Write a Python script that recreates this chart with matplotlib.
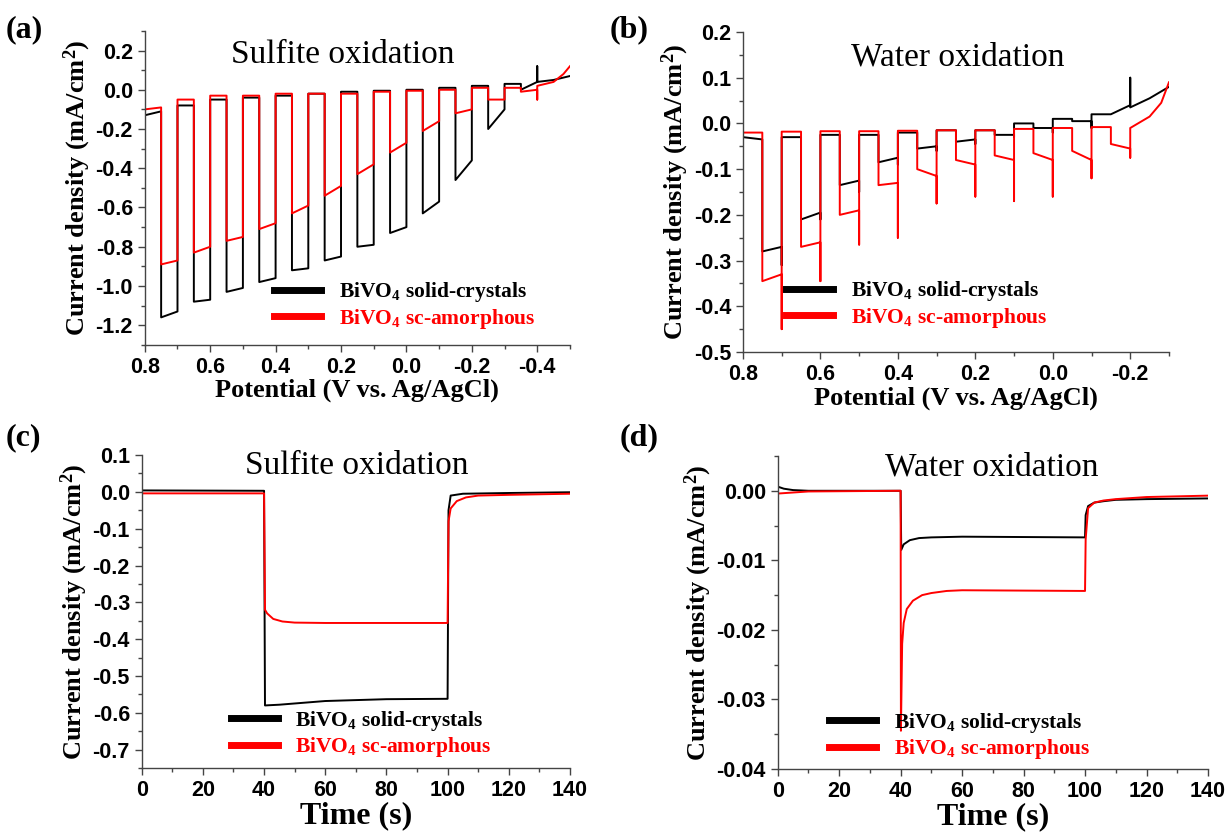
import numpy as np
from matplotlib import pyplot as plt
from matplotlib.ticker import MultipleLocator

plt.rcParams['font.family'] = ['Liberation Sans', 'DejaVu Sans']
plt.rcParams['font.weight'] = 'bold'
plt.rcParams['mathtext.fontset'] = 'custom'
plt.rcParams['mathtext.rm'] = 'Liberation Serif:bold'
plt.rcParams['mathtext.it'] = 'Liberation Serif:bold'
plt.rcParams['mathtext.bf'] = 'Liberation Serif:bold'

BLACK = '#000000'
RED = '#ff0000'
AXCOL = '#444444'

# ---- (a) chopped LSV, sulfite oxidation ----
a_edges = [0.75, 0.65, 0.55, 0.45, 0.35, 0.25, 0.15, 0.05, -0.05, -0.15, -0.25, -0.35]
a_black_start = -0.13
a_black_on = [-1.16, -1.08, -1.03, -0.98, -0.92, -0.87, -0.80, -0.73, -0.63, -0.46, -0.20, 0.00]
a_black_off = [-1.13, -1.07, -1.01, -0.96, -0.91, -0.85, -0.79, -0.70, -0.57, -0.36, -0.10, 0.04]
a_black_spike = [-1.13, -1.07, -1.01, -0.96, -0.91, -0.85, -0.79, -0.70, -0.57, -0.36, -0.10, 0.12]
a_black_dark = [-0.11, -0.08, -0.05, -0.04, -0.03, -0.02, -0.01, -0.005, 0.0, 0.01, 0.02, 0.03, 0.04]
a_black_tail_x = [-0.45, -0.50]
a_black_tail_y = [0.05, 0.07]
a_red_start = -0.10
a_red_on = [-0.89, -0.83, -0.77, -0.71, -0.63, -0.54, -0.43, -0.32, -0.21, -0.12, -0.05, -0.01]
a_red_off = [-0.87, -0.80, -0.75, -0.68, -0.59, -0.49, -0.38, -0.27, -0.16, -0.10, -0.05, 0.00]
a_red_spike = [-0.87, -0.80, -0.75, -0.68, -0.59, -0.49, -0.38, -0.27, -0.16, -0.10, -0.05, -0.05]
a_red_dark = [-0.09, -0.05, -0.03, -0.03, -0.02, -0.02, -0.02, -0.01, -0.005, 0.0, 0.01, 0.01, 0.02]
a_red_tail_x = [-0.45, -0.48, -0.50]
a_red_tail_y = [0.04, 0.08, 0.12]

# ---- (b) chopped LSV, water oxidation ----
b_edges = [0.75, 0.65, 0.55, 0.45, 0.35, 0.25, 0.15, 0.05, -0.05, -0.15]
b_black_start = -0.03
b_black_on = [-0.28, -0.21, -0.135, -0.085, -0.055, -0.04, -0.025, -0.01, 0.005, 0.02]
b_black_off = [-0.27, -0.195, -0.125, -0.075, -0.05, -0.035, -0.025, -0.01, 0.005, 0.04]
b_black_spike = [-0.31, -0.21, -0.15, -0.09, -0.06, -0.045, -0.03, -0.02, -0.01, 0.10]
b_black_dark = [-0.035, -0.03, -0.025, -0.025, -0.02, -0.015, -0.015, 0.0, 0.01, 0.02, 0.035]
b_black_tail_x = [-0.25, -0.30]
b_black_tail_y = [0.055, 0.08]
b_red_start = -0.02
b_red_on = [-0.345, -0.27, -0.20, -0.135, -0.10, -0.08, -0.07, -0.065, -0.06, -0.045]
b_red_off = [-0.33, -0.26, -0.19, -0.13, -0.115, -0.09, -0.08, -0.08, -0.08, -0.055]
b_red_spike = [-0.45, -0.345, -0.265, -0.25, -0.175, -0.16, -0.17, -0.16, -0.12, -0.075]
b_red_dark = [-0.02, -0.018, -0.017, -0.017, -0.016, -0.015, -0.015, -0.012, -0.01, -0.008, -0.01]
b_red_tail_x = [-0.22, -0.25, -0.28, -0.30]
b_red_tail_y = [0.0, 0.015, 0.045, 0.09]

# ---- (c) chronoamperometry, sulfite ----
c_t_black = [0, 40, 40.3, 45, 60, 80, 100, 100.3, 101, 105, 120, 140]
c_j_black = [0.004, 0.003, -0.58, -0.578, -0.568, -0.563, -0.562, -0.05, -0.01, -0.005, -0.003, -0.001]
c_t_red = [0, 40, 40.3, 41, 43, 46, 50, 60, 100, 100.3, 101, 103, 106, 110, 120, 140]
c_j_red = [-0.004, -0.004, -0.32, -0.33, -0.345, -0.352, -0.355, -0.356, -0.356, -0.08,
           -0.045, -0.025, -0.015, -0.01, -0.008, -0.005]

# ---- (d) chronoamperometry, water ----
d_t_black = [0, 2, 5, 10, 40, 40.2, 41, 43, 46, 50, 60, 100, 100.2, 101, 103, 106, 110, 120, 140]
d_j_black = [0.0006, 0.0003, 0.0001, 0.0, 0.0, -0.0085, -0.0077, -0.0071, -0.0068, -0.0067,
             -0.0066, -0.0067, -0.0035, -0.0022, -0.0017, -0.0015, -0.0013, -0.0012, -0.0011]
d_t_red = [0, 10, 40, 40.1, 40.5, 41, 42, 44, 47, 50, 55, 60, 100, 100.2, 101, 103, 106, 110, 120, 140]
d_j_red = [-0.0004, -0.0001, 0.0, -0.0345, -0.022, -0.019, -0.0170, -0.0158, -0.0150, -0.0147,
           -0.0144, -0.0143, -0.0144, -0.007, -0.0025, -0.0017, -0.0014, -0.0012, -0.0009, -0.0007]

LABEL_BLACK = r'BiVO$_4$ solid-crystals'
LABEL_RED = r'BiVO$_4$ sc-amorphous'


def chopped(edges, start, dark, on, off, spike, tail_x, tail_y, width=0.05):
    x = [0.80]
    y = [start]
    for i, e in enumerate(edges):
        x += [e, e, e - width, e - width, e - width]
        y += [dark[i], on[i], off[i], spike[i], dark[i + 1]]
    x += tail_x
    y += tail_y
    return x, y


def style_axes(ax):
    for side in ['top', 'right']:
        ax.spines[side].set_visible(False)
    for side in ['left', 'bottom']:
        ax.spines[side].set_color(AXCOL)
        ax.spines[side].set_linewidth(1.0)
    ax.tick_params(which='both', direction='out', colors=AXCOL, labelcolor='black')
    ax.tick_params(which='major', length=5, width=1.0, labelsize=15.5)
    ax.tick_params(which='minor', length=3, width=1.0)
    for lab in ax.get_xticklabels() + ax.get_yticklabels():
        lab.set_fontweight('bold')


def add_legend(ax, anchor):
    leg = ax.legend(loc='lower right', bbox_to_anchor=anchor, frameon=False,
                    borderaxespad=0, borderpad=0,
                    handlelength=2.2, handletextpad=0.8, labelspacing=0.12,
                    prop={'family': 'Liberation Serif', 'weight': 'bold', 'size': 15.5})
    for line in leg.get_lines():
        line.set_linewidth(5)
    for text, col in zip(leg.get_texts(), [BLACK, RED]):
        text.set_color(col)


serif_bold = {'family': 'Liberation Serif', 'weight': 'bold'}
ylab = 'Current density (mA/cm$^2$)'

fig = plt.figure(figsize=(12.27, 8.35), dpi=100)
ax_a = fig.add_axes([0.118, 0.587, 0.3465, 0.376])
ax_b = fig.add_axes([0.6055, 0.5784, 0.3472, 0.3833])
ax_c = fig.add_axes([0.1155, 0.0802, 0.349, 0.3748])
ax_d = fig.add_axes([0.6338, 0.079, 0.3507, 0.3749])

# (a)
x, y = chopped(a_edges, a_black_start, a_black_dark, a_black_on, a_black_off, a_black_spike,
               a_black_tail_x, a_black_tail_y)
ax_a.plot(x, y, color=BLACK, lw=1.4, label=LABEL_BLACK)
x, y = chopped(a_edges, a_red_start, a_red_dark, a_red_on, a_red_off, a_red_spike,
               a_red_tail_x, a_red_tail_y)
ax_a.plot(x, y, color=RED, lw=1.4, label=LABEL_RED)
ax_a.set_xlim(0.8, -0.5)
ax_a.set_ylim(-1.3, 0.3)
ax_a.set_xticks([0.8, 0.6, 0.4, 0.2, 0.0, -0.2, -0.4])
ax_a.set_xticklabels(['0.8', '0.6', '0.4', '0.2', '0.0', '-0.2', '-0.4'])
ax_a.xaxis.set_minor_locator(MultipleLocator(0.1))
ax_a.yaxis.set_minor_locator(MultipleLocator(0.1))
ax_a.set_yticks(np.round(np.arange(-1.2, 0.21, 0.2), 1))
ax_a.set_yticklabels(['-1.2', '-1.0', '-0.8', '-0.6', '-0.4', '-0.2', '0.0', '0.2'])

# (b)
x, y = chopped(b_edges, b_black_start, b_black_dark, b_black_on, b_black_off, b_black_spike,
               b_black_tail_x, b_black_tail_y)
ax_b.plot(x, y, color=BLACK, lw=1.4, label=LABEL_BLACK)
x, y = chopped(b_edges, b_red_start, b_red_dark, b_red_on, b_red_off, b_red_spike,
               b_red_tail_x, b_red_tail_y)
ax_b.plot(x, y, color=RED, lw=1.4, label=LABEL_RED)
ax_b.set_xlim(0.8, -0.3)
ax_b.set_ylim(-0.5, 0.2)
ax_b.set_xticks([0.8, 0.6, 0.4, 0.2, 0.0, -0.2])
ax_b.set_xticklabels(['0.8', '0.6', '0.4', '0.2', '0.0', '-0.2'])
ax_b.xaxis.set_minor_locator(MultipleLocator(0.1))
ax_b.set_yticks(np.round(np.arange(-0.5, 0.21, 0.1), 1))
ax_b.set_yticklabels(['-0.5', '-0.4', '-0.3', '-0.2', '-0.1', '0.0', '0.1', '0.2'])
ax_b.yaxis.set_minor_locator(MultipleLocator(0.05))

# (c)
ax_c.plot(c_t_black, c_j_black, color=BLACK, lw=1.4, label=LABEL_BLACK)
ax_c.plot(c_t_red, c_j_red, color=RED, lw=1.4, label=LABEL_RED)
ax_c.set_xlim(0, 140)
ax_c.set_ylim(-0.75, 0.1)
ax_c.set_xticks([0, 20, 40, 60, 80, 100, 120, 140])
ax_c.set_xticklabels(['0', '20', '40', '60', '80', '100', '120', '140'])
ax_c.xaxis.set_minor_locator(MultipleLocator(10))
ax_c.set_yticks(np.round(np.arange(-0.7, 0.11, 0.1), 1))
ax_c.set_yticklabels(['-0.7', '-0.6', '-0.5', '-0.4', '-0.3', '-0.2', '-0.1', '0.0', '0.1'])
ax_c.yaxis.set_minor_locator(MultipleLocator(0.05))

# (d)
ax_d.plot(d_t_black, d_j_black, color=BLACK, lw=1.4, label=LABEL_BLACK)
ax_d.plot(d_t_red, d_j_red, color=RED, lw=1.4, label=LABEL_RED)
ax_d.set_xlim(0, 140)
ax_d.set_ylim(-0.04, 0.005)
ax_d.set_xticks([0, 20, 40, 60, 80, 100, 120, 140])
ax_d.set_xticklabels(['0', '20', '40', '60', '80', '100', '120', '140'])
ax_d.xaxis.set_minor_locator(MultipleLocator(10))
ax_d.set_yticks([-0.04, -0.03, -0.02, -0.01, 0.0])
ax_d.set_yticklabels(['-0.04', '-0.03', '-0.02', '-0.01', '0.00'])
ax_d.yaxis.set_minor_locator(MultipleLocator(0.005))

for ax in [ax_a, ax_b, ax_c, ax_d]:
    style_axes(ax)
    ax.set_ylabel(ylab, fontsize=19, labelpad=2, **serif_bold)

ax_a.set_xlabel('Potential (V vs. Ag/AgCl)', fontsize=19, labelpad=1, **serif_bold)
ax_b.set_xlabel('Potential (V vs. Ag/AgCl)', fontsize=19, labelpad=1, **serif_bold)
ax_c.set_xlabel('Time (s)', fontsize=23, labelpad=0, **serif_bold)
ax_d.set_xlabel('Time (s)', fontsize=23, labelpad=0, **serif_bold)

add_legend(ax_a, (0.918, 0.045))
add_legend(ax_b, (0.714, 0.07))
add_legend(ax_c, (0.818, 0.028))
add_legend(ax_d, (0.726, 0.025))

title_font = {'family': 'Liberation Serif', 'weight': 'normal', 'size': 24}
fig.text(343 / 1227, 1 - 55 / 835, 'Sulfite oxidation', ha='center', va='center', **title_font)
fig.text(958 / 1227, 1 - 57 / 835, 'Water oxidation', ha='center', va='center', **title_font)
fig.text(357 / 1227, 1 - 466 / 835, 'Sulfite oxidation', ha='center', va='center', **title_font)
fig.text(992 / 1227, 1 - 467 / 835, 'Water oxidation', ha='center', va='center', **title_font)

panel_font = {'family': 'Liberation Serif', 'weight': 'bold', 'size': 23}
fig.text(6 / 1227, 1 - 30 / 835, '(a)', ha='left', va='center', **panel_font)
fig.text(610 / 1227, 1 - 30 / 835, '(b)', ha='left', va='center', **panel_font)
fig.text(6 / 1227, 1 - 438 / 835, '(c)', ha='left', va='center', **panel_font)
fig.text(620 / 1227, 1 - 438 / 835, '(d)', ha='left', va='center', **panel_font)

fig.savefig('out.png', dpi=100)
plt.close(fig)
